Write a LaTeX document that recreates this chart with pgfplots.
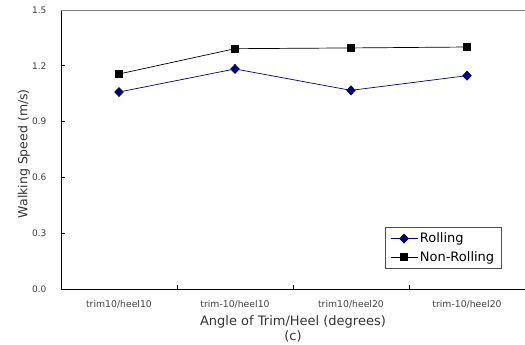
\documentclass[border=0pt]{standalone}
\usepackage{fontspec}
\setmainfont{DejaVu Sans}
\usepackage{pgfplots}
\pgfplotsset{compat=1.18}
\definecolor{navyblue}{RGB}{0,0,128}
\begin{document}
\begin{tikzpicture}
\useasboundingbox (-61pt,-56pt) rectangle (464pt,289pt);
\begin{axis}[
  at={(0pt,0pt)}, anchor=south west,
  scale only axis, width=464pt, height=279pt,
  xmin=-0.5, xmax=3.5, ymin=0, ymax=1.5,
  axis x line*=bottom, axis y line*=left,
  axis line style={black, line width=0.8pt, -},
  xtick={0,1,2,3},
  xticklabels={trim10/heel10, trim-10/heel10, trim10/heel20, trim-10/heel20},
  major x tick style={draw=none},
  minor xtick={0.5,1.5,2.5},
  ytick={0,0.3,0.6,0.9,1.2,1.5},
  tick align=inside,
  major tick length=4pt, minor tick length=4pt,
  tick style={black, line width=0.8pt},
  /pgf/number format/assume math mode=true,
  yticklabel style={/pgf/number format/fixed, /pgf/number format/fixed zerofill, /pgf/number format/precision=1, font=\fontsize{9}{10}\selectfont, xshift=-11pt, text=black!75},
  xticklabel style={font=\fontsize{9.3}{10}\selectfont, yshift=-8pt, text=black!75},
  xlabel={Angle of Trim/Heel (degrees)\\(c)},
  xlabel style={at={(axis description cs:0.5,0)}, anchor=north, yshift=-23pt, align=center, font=\fontsize{13}{15.5}\selectfont, text=black!80},
  ylabel={Walking Speed (m/s)},
  ylabel style={at={(axis description cs:-0.08,0.485)}, anchor=center, font=\fontsize{12.5}{14}\selectfont, text=black!80},
  legend style={at={(axis description cs:0.698,0.072)}, anchor=south west, draw=black!70, line width=0.6pt, font=\fontsize{13}{15}\selectfont, inner xsep=5pt, inner ysep=4pt, row sep=3pt},
  legend cell align=left,
  legend image code/.code={\draw[mark repeat=2,mark phase=2,#1] plot coordinates {(0pt,0pt) (13.5pt,0pt) (27pt,0pt)};},
]
\draw[black!50, line width=0.8pt] (rel axis cs:0,1) -- (rel axis cs:1,1);
\addplot[navyblue, line width=0.7pt, mark=diamond*, mark size=4.5pt, mark options={solid, fill=navyblue, xscale=1.25}]
  coordinates {(0,1.059) (1,1.183) (2,1.068) (3,1.147)};
\addlegendentry{Rolling}
\addplot[black, line width=0.7pt, mark=square*, mark size=3.6pt, mark options={solid, fill=black}]
  coordinates {(0,1.156) (1,1.292) (2,1.296) (3,1.301)};
\addlegendentry{Non-Rolling}
\end{axis}
\end{tikzpicture}
\end{document}
